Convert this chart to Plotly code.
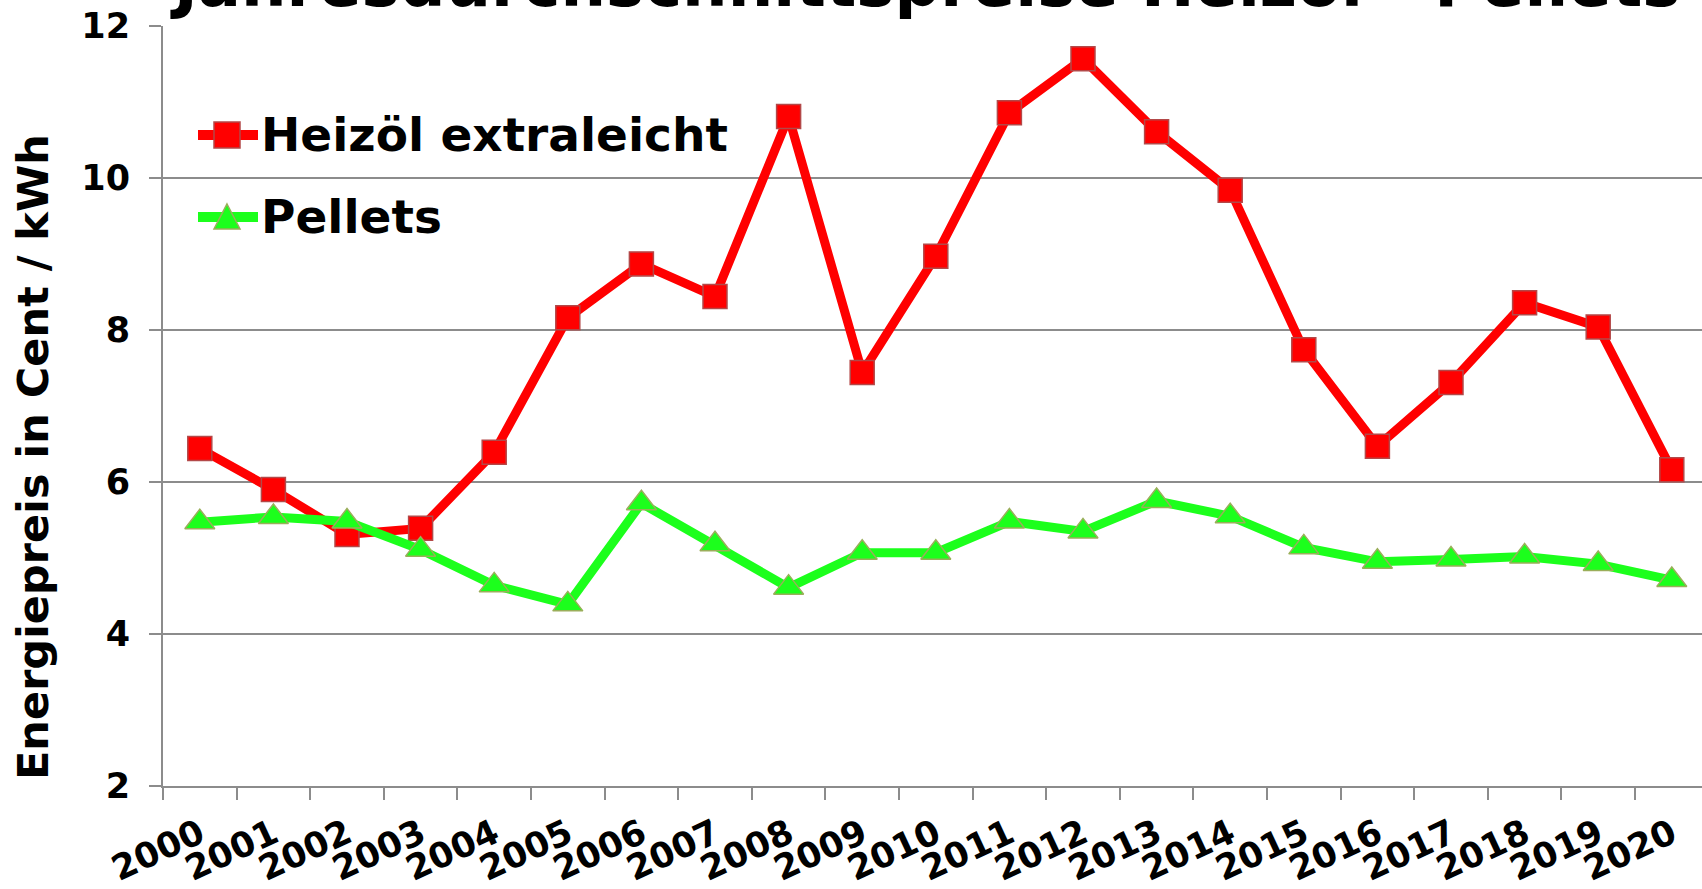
import plotly.graph_objects as go

# Annual average prices (Cent / kWh)
years = ["2000", "2001", "2002", "2003", "2004", "2005", "2006", "2007", "2008", "2009", "2010",
         "2011", "2012", "2013", "2014", "2015", "2016", "2017", "2018", "2019", "2020"]
heizoel = [6.44, 5.90, 5.31, 5.39, 6.39, 8.16, 8.87, 8.44, 10.81, 7.44, 8.97,
           10.86, 11.57, 10.61, 9.84, 7.74, 6.47, 7.31, 8.36, 8.04, 6.16]
pellets = [5.47, 5.54, 5.48, 5.11, 4.64, 4.39, 5.72, 5.18, 4.61, 5.07, 5.07,
           5.48, 5.35, 5.75, 5.55, 5.14, 4.95, 4.98, 5.02, 4.92, 4.71]
y_ticks = [2, 4, 6, 8, 10, 12]

RED = "#ff0000"
RED_EDGE = "#b34848"
GREEN = "#1cff1c"
GREEN_EDGE = "#9aae5a"
GRID = "#8c8c8c"
FONT = "DejaVu Sans"

W, H = 1702, 889
L, R, T, B = 163, 0, 26, 103
PW, PH = W - L - R, H - T - B


def px_x(px):
    return (px - L) / PW


def px_y(py):
    return (H - B - py) / PH


fig = go.Figure()
fig.add_trace(go.Scatter(
    x=years, y=heizoel, mode="lines+markers", name="Heizöl extraleicht",
    line=dict(color=RED, width=9),
    marker=dict(symbol="square", size=24, color=RED, line=dict(color=RED_EDGE, width=1.5)),
    showlegend=False,
))
fig.add_trace(go.Scatter(
    x=years, y=pellets, mode="lines+markers", name="Pellets",
    line=dict(color=GREEN, width=9),
    marker=dict(symbol="triangle-up", size=26, color=GREEN, line=dict(color=GREEN_EDGE, width=1.5)),
    showlegend=False,
))

# Legend drawn as line + marker glyph with label
shapes = []
annotations = []
legend_rows = [("Heizöl extraleicht", RED, RED_EDGE, "square", 135),
               ("Pellets", GREEN, GREEN_EDGE, "triangle", 217)]
for label, col, edge, sym, cy in legend_rows:
    shapes.append(dict(type="line", xref="paper", yref="paper",
                       x0=px_x(198), x1=px_x(258), y0=px_y(cy), y1=px_y(cy),
                       line=dict(color=col, width=10)))
    cx = 227
    if sym == "square":
        shapes.append(dict(type="rect", xref="paper", yref="paper",
                           x0=px_x(cx - 13), x1=px_x(cx + 13), y0=px_y(cy - 13), y1=px_y(cy + 13),
                           fillcolor=col, line=dict(color=edge, width=1.5)))
    else:
        path = "M{:.5f},{:.5f} L{:.5f},{:.5f} L{:.5f},{:.5f} Z".format(
            px_x(cx), px_y(cy - 13), px_x(cx + 13), px_y(cy + 12), px_x(cx - 13), px_y(cy + 12))
        shapes.append(dict(type="path", xref="paper", yref="paper", path=path,
                           fillcolor=col, line=dict(color=edge, width=1.5)))
    annotations.append(dict(text=label, xref="paper", yref="paper", x=px_x(259), y=px_y(cy),
                            xanchor="left", yanchor="middle", showarrow=False,
                            font=dict(family=FONT, size=47, color="black", weight="bold")))

# Chart title along the top edge
annotations.append(dict(text="Jahresdurchschnittspreise Heizöl - Pellets", xref="paper", yref="paper",
                        x=px_x(925), y=px_y(-16), xanchor="center", yanchor="middle", showarrow=False,
                        font=dict(family=FONT, size=64, color="black", weight="bold")))

# Value-axis title
annotations.append(dict(text="Energiepreis in Cent / kWh", xref="paper", yref="paper",
                        x=px_x(33), y=px_y(457), xanchor="center", yanchor="middle",
                        textangle=-90, showarrow=False,
                        font=dict(family=FONT, size=43, color="black", weight="bold")))

fig.update_layout(
    width=W, height=H,
    margin=dict(l=L, r=R, t=T, b=B, autoexpand=False),
    paper_bgcolor="white", plot_bgcolor="white",
    shapes=shapes, annotations=annotations,
    showlegend=False,
)
fig.update_xaxes(
    type="category", range=[-0.5, -0.5 + PW / 73.6], tickson="boundaries",
    automargin=False,
    ticks="outside", ticklen=12, tickwidth=2, tickcolor=GRID,
    showline=True, linecolor=GRID, linewidth=2, showgrid=False,
    tickangle=-25, ticklabelstandoff=12,
    tickfont=dict(family=FONT, size=35, color="black", weight="bold"),
)
fig.update_yaxes(
    range=[2, 12], tickvals=y_ticks, automargin=False,
    ticks="outside", ticklen=12, tickwidth=2, tickcolor=GRID,
    showline=True, linecolor=GRID, linewidth=2,
    showgrid=True, gridcolor=GRID, gridwidth=2, zeroline=False,
    ticklabelstandoff=12,
    tickfont=dict(family=FONT, size=35, color="black", weight="bold"),
)

fig.write_html("out.html")
